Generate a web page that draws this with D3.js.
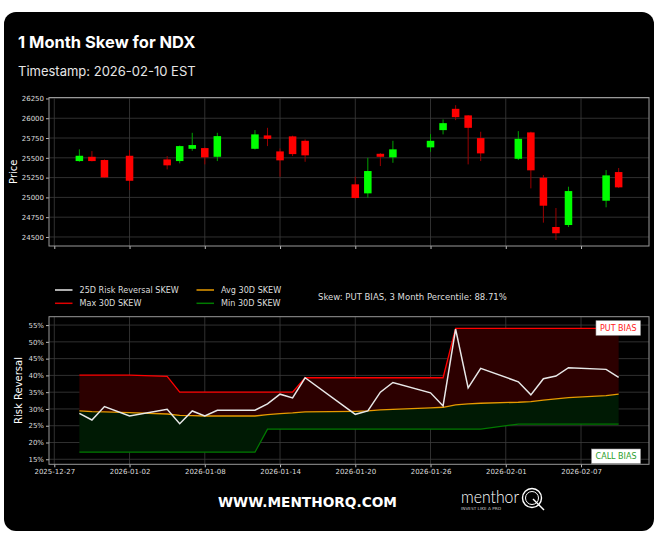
<!DOCTYPE html>
<html>
<head>
<meta charset="utf-8">
<script src="https://cdn.jsdelivr.net/npm/d3@7"></script>
<style>
  html, body { margin: 0; padding: 0; background: #fff; }
  svg { display: block; }
</style>
</head>
<body>
<svg id="chart" width="659" height="537"></svg>
<script>
// trading days
const dates = ["2025-12-29","2025-12-30","2025-12-31","2026-01-02","2026-01-05","2026-01-06","2026-01-07","2026-01-08","2026-01-09",
  "2026-01-12","2026-01-13","2026-01-14","2026-01-15","2026-01-16","2026-01-20","2026-01-21","2026-01-22","2026-01-23",
  "2026-01-26","2026-01-27","2026-01-28","2026-01-29","2026-01-30","2026-02-02","2026-02-03","2026-02-04","2026-02-05",
  "2026-02-06","2026-02-09","2026-02-10"];

// NDX OHLC
const open  = [25459,25513,25472,25526,25480,25459,25614,25623,25513,25614,25783,25581,25771,25715,25165,25051,25551,25506,25632,25850,26119,26036,25749,25488,25821,25248,24626,24651,24958,25320];
const high  = [25607,25585,25480,25598,25522,25655,25816,25630,25816,25850,25879,25619,25780,25733,25261,25500,25560,25715,25800,25985,26165,26040,25829,25837,25830,25282,24866,25135,25345,25371];
const low   = [25450,25455,25245,25093,25354,25430,25589,25417,25459,25605,25648,25261,25522,25450,24985,24996,25396,25437,25576,25796,25976,25417,25459,25472,25114,24681,24462,24626,24875,25120];
const close = [25526,25459,25253,25210,25405,25648,25661,25506,25774,25796,25740,25468,25547,25531,24992,25333,25513,25607,25715,25938,26014,25879,25556,25740,25342,24895,24547,25080,25278,25127];

// skew series (%)
const rrSkew  = [28.7,26.7,30.7,27.9,29.9,25.6,29.4,27.9,29.6,29.6,31.5,34.4,33.3,39.3,28.4,29.4,35.0,37.9,34.8,30.9,53.8,36.3,42.1,38.1,34.2,39.0,39.8,42.3,41.8,39.4];
const maxSkew = [40.1,40.1,40.1,40.1,39.7,35.0,35.0,35.0,35.0,35.0,35.0,35.0,35.0,39.3,39.3,39.3,39.3,39.3,39.3,39.3,54.0,54.0,54.0,54.0,54.0,54.0,54.0,54.0,54.0,54.0];
const avgSkew = [29.4,29.2,29.1,28.9,28.5,28.1,28.0,27.9,27.9,27.9,28.3,28.6,28.8,29.1,29.3,29.4,29.7,29.9,30.3,30.5,31.2,31.5,31.7,32.0,32.2,32.6,33.0,33.4,34.0,34.4];
const minSkew = [17.1,17.1,17.1,17.1,17.1,17.1,17.1,17.1,17.1,17.1,24.0,24.0,24.0,24.0,24.0,24.0,24.0,24.0,24.0,24.0,24.0,24.0,24.0,25.5,25.5,25.5,25.5,25.5,25.5,25.5];

const xTickLabels = ["2025-12-27","2026-01-02","2026-01-08","2026-01-14","2026-01-20","2026-01-26","2026-02-01","2026-02-07"];
const priceTicks = [24500,24750,25000,25250,25500,25750,26000,26250];
const skewTicks = [15,20,25,30,35,40,45,50,55];
const legendItems = [
  { label: "25D Risk Reversal SKEW", color: "#e8e8e8" },
  { label: "Max 30D SKEW", color: "#e00000" },
  { label: "Avg 30D SKEW", color: "#e69a00" },
  { label: "Min 30D SKEW", color: "#007a00" }
];
const skewNote = "Skew: PUT BIAS, 3 Month Percentile: 88.71%";

const parse = d3.utcParse("%Y-%m-%d");
const rows = dates.map((d, i) => ({
  date: parse(d), o: open[i], h: high[i], l: low[i], c: close[i],
  rr: rrSkew[i], mx: maxSkew[i], avg: avgSkew[i], mn: minSkew[i]
}));

const svg = d3.select("#chart");
const chartFont = "DejaVu Sans, sans-serif";

// card background
svg.append("rect")
  .attr("x", 4).attr("y", 12).attr("width", 650).attr("height", 519)
  .attr("rx", 12).attr("fill", "#000");

svg.append("text")
  .attr("x", 18).attr("y", 48)
  .attr("fill", "#fff").attr("font-family", "Inter, sans-serif")
  .attr("font-weight", 700).attr("font-size", 16.5)
  .text("1 Month Skew for NDX");

svg.append("text")
  .attr("x", 18).attr("y", 76)
  .attr("fill", "#e6e6e6").attr("font-family", "Inter, sans-serif")
  .attr("font-size", 13)
  .text("Timestamp: 2026-02-10 EST");

// shared x scale
const x = d3.scaleUtc()
  .domain([new Date(Date.UTC(2025, 11, 26, 13, 52)), new Date(Date.UTC(2026, 1, 12, 10, 5))])
  .range([49, 649]);
const tickDates = xTickLabels.map(parse);
const dayPx = x(parse("2026-01-02")) - x(parse("2026-01-01"));

function drawFrame(g, y, top, bottom, yTicks, yFmt, showXLabels) {
  // grid
  g.append("g").selectAll("line").data(tickDates).join("line")
    .attr("x1", d => x(d)).attr("x2", d => x(d))
    .attr("y1", top).attr("y2", bottom)
    .attr("stroke", "#3c3c3c").attr("stroke-width", 0.8);
  g.append("g").selectAll("line").data(yTicks).join("line")
    .attr("x1", 49).attr("x2", 649)
    .attr("y1", d => y(d)).attr("y2", d => y(d))
    .attr("stroke", "#3c3c3c").attr("stroke-width", 0.8);

  const yAxis = g.append("g")
    .attr("transform", "translate(49,0)")
    .call(d3.axisLeft(y).tickValues(yTicks).tickFormat(yFmt).tickSize(3).tickPadding(2));
  yAxis.select(".domain").remove();
  yAxis.selectAll("line").attr("stroke", "#bbb");
  yAxis.selectAll("text").attr("fill", "#ddd").attr("font-family", chartFont).attr("font-size", 7);

  const xAxis = g.append("g")
    .attr("transform", `translate(0,${bottom})`)
    .call(d3.axisBottom(x).tickValues(tickDates).tickFormat(d3.utcFormat("%Y-%m-%d")).tickSize(3).tickPadding(2));
  xAxis.select(".domain").remove();
  xAxis.selectAll("line").attr("stroke", "#bbb");
  xAxis.selectAll("text").attr("fill", "#ddd").attr("font-family", chartFont).attr("font-size", 7)
    .attr("display", showXLabels ? null : "none");
}

function drawBorder(top, bottom) {
  svg.append("rect")
    .attr("x", 49).attr("y", top).attr("width", 600).attr("height", bottom - top)
    .attr("fill", "none").attr("stroke", "#999").attr("stroke-width", 1);
}

// ---- price panel ----
const pTop = 97.5, pBottom = 246;
const yP = d3.scaleLinear().domain([24386, 26262]).range([pBottom, pTop]);
const gP = svg.append("g");
drawFrame(gP, yP, pTop, pBottom, priceTicks, d3.format("d"), false);

const candleW = dayPx * 0.6;
const candle = gP.append("g").selectAll("g").data(rows).join("g");
candle.append("line")
  .attr("x1", d => x(d.date)).attr("x2", d => x(d.date))
  .attr("y1", d => yP(d.h)).attr("y2", d => yP(d.l))
  .attr("stroke", d => d.c >= d.o ? "#00a000" : "#9a0000")
  .attr("stroke-width", 1);
candle.append("rect")
  .attr("x", d => x(d.date) - candleW / 2)
  .attr("width", candleW)
  .attr("y", d => yP(Math.max(d.o, d.c)))
  .attr("height", d => Math.max(1, Math.abs(yP(d.o) - yP(d.c))))
  .attr("fill", d => d.c >= d.o ? "#00ff00" : "#ff0000");

drawBorder(pTop, pBottom);

svg.append("text")
  .attr("transform", `translate(17,${(pTop + pBottom) / 2}) rotate(-90)`)
  .attr("text-anchor", "middle")
  .attr("fill", "#fff").attr("font-family", chartFont).attr("font-size", 10)
  .text("Price");

// ---- skew panel ----
const sTop = 316.7, sBottom = 464.3;
const yS = d3.scaleLinear().domain([13.5, 57.5]).range([sBottom, sTop]);
const gS = svg.append("g");
drawFrame(gS, yS, sTop, sBottom, skewTicks, d => d + "%", true);

gS.append("path").datum(rows)
  .attr("fill", "#2c0000")
  .attr("d", d3.area().x(d => x(d.date)).y0(d => yS(d.avg)).y1(d => yS(d.mx)));
gS.append("path").datum(rows)
  .attr("fill", "#001a04")
  .attr("d", d3.area().x(d => x(d.date)).y0(d => yS(d.mn)).y1(d => yS(d.avg)));

const lineOf = key => d3.line().x(d => x(d.date)).y(d => yS(d[key]));
gS.append("path").datum(rows).attr("fill", "none").attr("stroke", "#007a00").attr("stroke-width", 1.3).attr("d", lineOf("mn"));
gS.append("path").datum(rows).attr("fill", "none").attr("stroke", "#e69a00").attr("stroke-width", 1.3).attr("d", lineOf("avg"));
gS.append("path").datum(rows).attr("fill", "none").attr("stroke", "#ff0000").attr("stroke-width", 1.3).attr("d", lineOf("mx"));
gS.append("path").datum(rows).attr("fill", "none").attr("stroke", "#e8e8e8").attr("stroke-width", 1.5).attr("d", lineOf("rr"));

// bias labels
function biasLabel(text, color, right, cy) {
  const g = svg.append("g");
  const t = g.append("text")
    .attr("x", right - 4).attr("y", cy)
    .attr("dy", "0.35em").attr("text-anchor", "end")
    .attr("fill", color).attr("font-family", chartFont).attr("font-size", 8)
    .text(text);
  const bb = t.node().getBBox();
  g.insert("rect", "text")
    .attr("x", bb.x - 4).attr("y", cy - 7.3).attr("width", bb.width + 8).attr("height", 14.6)
    .attr("fill", "#fff").attr("stroke", "#999").attr("stroke-width", 0.6);
}
biasLabel("PUT BIAS", "#ff2020", 640.5, 328);
biasLabel("CALL BIAS", "#2ca02c", 640.5, 456.3);

drawBorder(sTop, sBottom);

svg.append("text")
  .attr("transform", `translate(22,${(sTop + sBottom) / 2}) rotate(-90)`)
  .attr("text-anchor", "middle")
  .attr("fill", "#fff").attr("font-family", chartFont).attr("font-size", 10)
  .text("Risk Reversal");

// legend: col1 = RR, Max ; col2 = Avg, Min
const legend = svg.append("g").selectAll("g").data(legendItems).join("g")
  .attr("transform", (d, i) => {
    const col = i < 2 ? 0 : 1;
    const row = i % 2;
    return `translate(${55 + col * 141.5},${290 + row * 13.3})`;
  });
legend.append("line")
  .attr("x1", 0).attr("x2", 17.5)
  .attr("stroke", d => d.color).attr("stroke-width", 1.5);
legend.append("text")
  .attr("x", 24.5).attr("dy", "0.35em")
  .attr("fill", "#ddd").attr("font-family", chartFont).attr("font-size", 8.1)
  .text(d => d.label);

svg.append("text")
  .attr("x", 318).attr("y", 297.5).attr("dy", "0.35em")
  .attr("fill", "#ddd").attr("font-family", chartFont).attr("font-size", 8.5)
  .text(skewNote);

// footer
svg.append("text")
  .attr("x", 218).attr("y", 502).attr("dy", "0.35em")
  .attr("fill", "#fff").attr("font-family", "DejaVu Sans, sans-serif")
  .attr("font-weight", 700).attr("font-size", 13.5)
  .attr("textLength", 179).attr("lengthAdjust", "spacingAndGlyphs")
  .text("WWW.MENTHORQ.COM");

const logo = svg.append("g");
logo.append("text")
  .attr("x", 461).attr("y", 503)
  .attr("fill", "#fff").attr("font-family", "Lato, sans-serif").attr("font-weight", 300)
  .attr("font-size", 17).attr("textLength", 58).attr("lengthAdjust", "spacingAndGlyphs")
  .text("menthor");
logo.append("text")
  .attr("x", 461).attr("y", 509.5)
  .attr("fill", "#ccc").attr("font-family", chartFont).attr("font-size", 4.2)
  .attr("textLength", 40).attr("lengthAdjust", "spacingAndGlyphs")
  .text("INVEST LIKE A PRO");
logo.append("circle")
  .attr("cx", 532).attr("cy", 498).attr("r", 9.5)
  .attr("fill", "none").attr("stroke", "#fff").attr("stroke-width", 1.4);
logo.append("circle")
  .attr("cx", 532).attr("cy", 498).attr("r", 6.5)
  .attr("fill", "none").attr("stroke", "#fff").attr("stroke-width", 1);
logo.append("line")
  .attr("x1", 533).attr("y1", 499).attr("x2", 544).attr("y2", 510)
  .attr("stroke", "#fff").attr("stroke-width", 1.4);
</script>
</body>
</html>
